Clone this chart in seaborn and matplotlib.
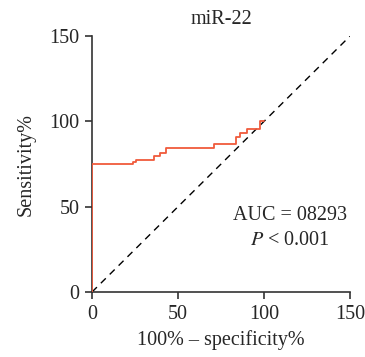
import matplotlib
matplotlib.use("Agg")
import matplotlib.pyplot as plt
import seaborn as sns
import pandas as pd

# ROC step points
fpr = [0, 0, 24, 25.5, 36, 39.5, 43, 71, 83.5, 86, 90, 97.7, 100]
tpr = [0, 75, 76.2, 77.4, 79.7, 81.7, 84.2, 86.6, 91, 93, 95.3, 100, 100]
ref_line = [0, 150]
ticks = [0, 50, 100, 150]

sns.set_theme(style="ticks")
plt.rcParams['font.family'] = ['Liberation Serif', 'DejaVu Serif']
plt.rcParams['mathtext.fontset'] = 'stix'

fig = plt.figure(figsize=(3.65, 3.57), dpi=100)
ax = fig.add_axes([0.252, 0.182, 0.707, 0.717])

df = pd.DataFrame({"fpr": fpr, "tpr": tpr})
sns.lineplot(data=df, x="fpr", y="tpr", sort=False, estimator=None,
             drawstyle="steps-post", color="#f05a3c", linewidth=1.3,
             ax=ax, zorder=3)
sns.lineplot(x=ref_line, y=ref_line, estimator=None, color="black",
             linewidth=1.0, linestyle=(0, (5, 4)), ax=ax, zorder=2)

ax.set_xlim(0, 150)
ax.set_ylim(0, 150)
ax.set_xticks(ticks)
ax.set_yticks(ticks)
ax.tick_params(labelsize=14.5, length=5, width=1.2, color="#333333", pad=4)
for s in ["left", "bottom"]:
    ax.spines[s].set_linewidth(1.2)
    ax.spines[s].set_color("#333333")
sns.despine(ax=ax)

ax.set_xlabel("100% – specificity%", fontsize=14.5, labelpad=5)
ax.set_ylabel("Sensitivity%", fontsize=14.5, labelpad=10)
ax.set_title("miR-22", fontsize=14.5, pad=9)

ax.text(115, 45, "AUC = 08293", fontsize=14.5, ha="center", va="center")
ax.text(115, 30, "$P$ < 0.001", fontsize=14.5, ha="center", va="center")

fig.savefig("out.png", dpi=100)
